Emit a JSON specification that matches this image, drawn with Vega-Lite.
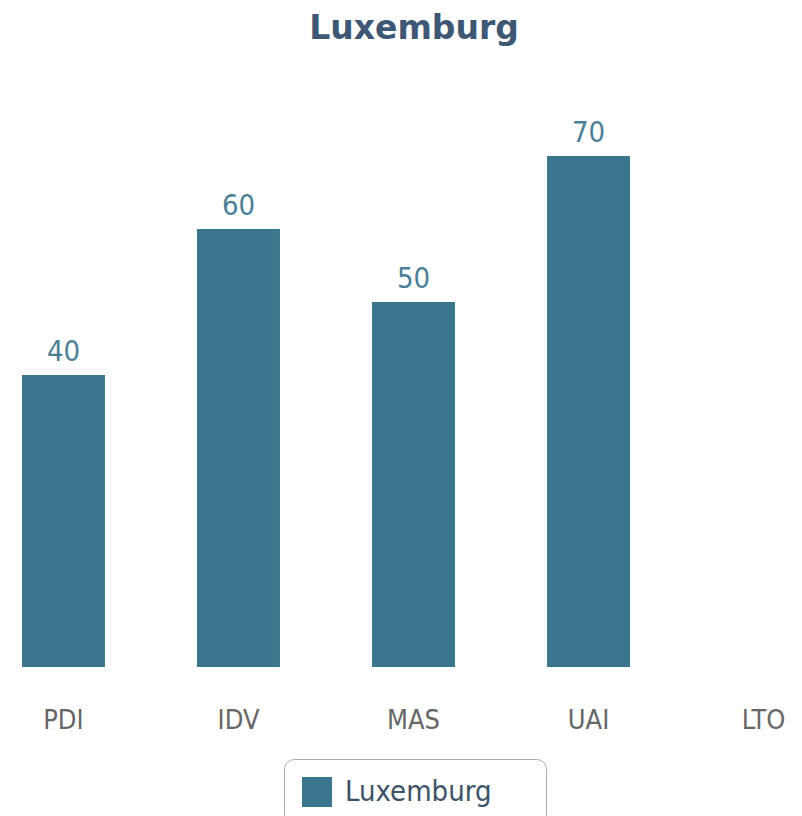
{
  "$schema": "https://vega.github.io/schema/vega-lite/v6.json",
  "autosize": {"type": "none"},
  "width": 802,
  "height": 584,
  "padding": {"left": 0, "top": 83, "right": 0, "bottom": 149},
  "background": "white",
  "view": {"stroke": null},
  "title": {
    "text": "Luxemburg",
    "font": "DejaVu Sans",
    "fontSize": 33,
    "fontWeight": "bold",
    "color": "#3D5775",
    "anchor": "middle",
    "baseline": "alphabetic",
    "offset": 11,
    "dx": 13
  },
  "data": {
    "values": [
      {"dimension": "PDI", "score": 40, "country": "Luxemburg"},
      {"dimension": "IDV", "score": 60, "country": "Luxemburg"},
      {"dimension": "MAS", "score": 50, "country": "Luxemburg"},
      {"dimension": "UAI", "score": 70, "country": "Luxemburg"},
      {"dimension": "LTO", "score": null, "country": "Luxemburg"}
    ]
  },
  "encoding": {
    "x": {
      "field": "dimension",
      "type": "nominal",
      "sort": null,
      "scale": {"domain": ["PDI", "IDV", "MAS", "UAI", "LTO"], "range": [0, 827], "paddingInner": 0.526, "paddingOuter": 0.1257},
      "axis": {
        "title": null,
        "domain": false,
        "ticks": false,
        "grid": false,
        "labelAngle": 0,
        "labelFont": "DejaVu Sans Condensed",
        "labelFontSize": 27,
        "labelColor": "#666666",
        "labelBaseline": "alphabetic",
        "labelPadding": 61
      }
    },
    "y": {
      "field": "score",
      "type": "quantitative",
      "scale": {"domain": [0, 80]},
      "axis": null
    }
  },
  "layer": [
    {
      "mark": {"type": "bar"},
      "encoding": {
        "color": {
          "field": "country",
          "type": "nominal",
          "scale": {"range": ["#3A778F"]},
          "legend": {
            "orient": "none",
            "legendX": 284,
            "legendY": 676,
            "direction": "horizontal",
            "title": " ",
            "titleOrient": "right",
            "titlePadding": 37,
            "titleFontSize": 29,
            "strokeColor": "#AAAAAA",
            "cornerRadius": 10,
            "padding": 18,
            "symbolType": "square",
            "symbolSize": 900,
            "symbolStrokeWidth": 0,
            "labelFont": "DejaVu Sans Condensed",
            "labelFontSize": 29,
            "labelColor": "#3D5266",
            "labelOffset": 13,
            "labelLimit": 400
          }
        }
      }
    },
    {
      "mark": {
        "type": "text",
        "baseline": "alphabetic",
        "dy": -14,
        "font": "DejaVu Sans Condensed",
        "fontSize": 29,
        "color": "#4B7F97"
      },
      "encoding": {
        "text": {"field": "score", "type": "quantitative"}
      }
    }
  ]
}
